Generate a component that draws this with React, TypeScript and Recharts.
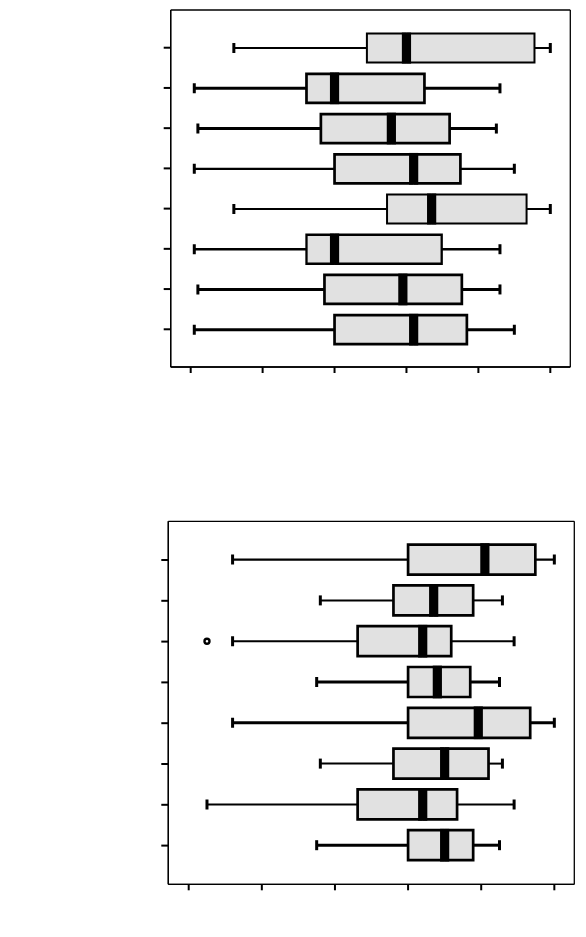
import React from 'react';
import { ComposedChart, Bar, XAxis, YAxis, CartesianGrid } from 'recharts';

// ---------- data ----------
const rowLabels = ['1', '2', '3', '4', '5', '6', '7', '8'];
const xTicks = [1, 2, 3, 4, 5, 6];

// Panel 1 (top)
const p1Min = [1.6, 1.05, 1.1, 1.05, 1.6, 1.05, 1.1, 1.05];
const p1Q1 = [3.45, 2.61, 2.81, 3.0, 3.73, 2.61, 2.86, 3.0];
const p1Median = [4.0, 3.0, 3.79, 4.1, 4.35, 3.0, 3.95, 4.1];
const p1Q3 = [5.78, 4.25, 4.6, 4.75, 5.67, 4.49, 4.77, 4.84];
const p1Max = [6.0, 5.3, 5.25, 5.5, 6.0, 5.3, 5.3, 5.5];
const p1Outlier: (number | null)[] = [null, null, null, null, null, null, null, null];

// Panel 2 (bottom)
const p2Min = [1.6, 2.8, 1.6, 2.75, 1.6, 2.8, 1.25, 2.75];
const p2Q1 = [4.0, 3.8, 3.31, 4.0, 4.0, 3.8, 3.31, 4.0];
const p2Median = [5.05, 4.35, 4.2, 4.4, 4.96, 4.5, 4.2, 4.5];
const p2Q3 = [5.74, 4.89, 4.59, 4.85, 5.67, 5.1, 4.67, 4.89];
const p2Max = [6.0, 5.29, 5.45, 5.25, 6.0, 5.29, 5.45, 5.25];
const p2Outlier: (number | null)[] = [null, null, 1.25, null, null, null, null, null];

// ---------- styles ----------
const BOX_FILL = '#e1e1e1';
const p1WhiskerW = [2, 3, 3, 2.3, 2, 2.5, 3, 3];
const p1BoxW = [2, 2.7, 2.7, 2.7, 2, 2.3, 2.7, 2.7];
const p2WhiskerW = [2.3, 2, 2, 3, 3, 2, 2, 3];
const p2BoxW = [2.7, 2.7, 2.7, 2.7, 2.7, 2.7, 2.7, 2.7];

function buildRows(
  min: number[],
  q1: number[],
  med: number[],
  q3: number[],
  max: number[],
  out: (number | null)[]
) {
  return rowLabels.map((name, i) => ({
    name,
    idx: i,
    min: min[i],
    q1: q1[i],
    out: out[i],
    base: min[i],
    wLow: q1[i] - min[i],
    bLow: med[i] - q1[i],
    bHigh: q3[i] - med[i],
    wHigh: max[i] - q3[i],
  }));
}

const p1Rows = buildRows(p1Min, p1Q1, p1Median, p1Q3, p1Max, p1Outlier);
const p2Rows = buildRows(p2Min, p2Q1, p2Median, p2Q3, p2Max, p2Outlier);

const CAP_H = 10;

const EmptyTick = () => <g />;

function makeShapes(whiskerW: number[], boxW: number[]) {
  const Empty = () => <g />;
  const LowWhisker = (props: any) => {
    const { x, y, width, height, payload } = props;
    const cy = y + height / 2;
    const lw = whiskerW[payload.idx];
    let outlier = null;
    if (payload.out != null) {
      // pixel scale derived from this bar's own (library-scaled) geometry
      const pxPerUnit = width / (payload.q1 - payload.min);
      const ox = x - (payload.min - payload.out) * pxPerUnit;
      outlier = <circle cx={ox} cy={cy} r={2.5} fill="#fff" stroke="#000" strokeWidth={2.4} />;
    }
    return (
      <g>
        <line x1={x} x2={x + width} y1={cy} y2={cy} stroke="#000" strokeWidth={lw} />
        <line x1={x} x2={x} y1={cy - CAP_H / 2} y2={cy + CAP_H / 2} stroke="#000" strokeWidth={3} />
        {outlier}
      </g>
    );
  };
  const HighWhisker = (props: any) => {
    const { x, y, width, height, payload } = props;
    const cy = y + height / 2;
    const lw = whiskerW[payload.idx];
    const xe = x + width;
    return (
      <g>
        <line x1={x} x2={xe} y1={cy} y2={cy} stroke="#000" strokeWidth={lw} />
        <line x1={xe} x2={xe} y1={cy - CAP_H / 2} y2={cy + CAP_H / 2} stroke="#000" strokeWidth={3} />
      </g>
    );
  };
  const BoxLow = (props: any) => {
    const { x, y, width, height, payload } = props;
    const bw = boxW[payload.idx];
    return (
      <g>
        <rect x={x} y={y} width={width} height={height} fill={BOX_FILL} />
        <path
          d={`M${x + width},${y} L${x},${y} L${x},${y + height} L${x + width},${y + height}`}
          fill="none"
          stroke="#000"
          strokeWidth={bw}
        />
      </g>
    );
  };
  const BoxHigh = (props: any) => {
    const { x, y, width, height, payload } = props;
    const bw = boxW[payload.idx];
    return (
      <g>
        <rect x={x} y={y} width={width} height={height} fill={BOX_FILL} />
        <path
          d={`M${x},${y} L${x + width},${y} L${x + width},${y + height} L${x},${y + height}`}
          fill="none"
          stroke="#000"
          strokeWidth={bw}
        />
        <rect x={x - 4.6} y={y - bw / 2} width={9.2} height={height + bw} fill="#000" />
      </g>
    );
  };
  return { Empty, LowWhisker, HighWhisker, BoxLow, BoxHigh };
}

type PanelProps = {
  rows: any[];
  width: number;
  height: number;
  margin: { top: number; right: number; bottom: number; left: number };
  yPad: number;
  barSize: number;
  whiskerW: number[];
  boxW: number[];
  domain: [number, number];
};

const frameH = (p: any) => [p.offset.top, p.offset.top + p.offset.height];
const frameV = (p: any) => [p.offset.left, p.offset.left + p.offset.width];

function BoxPanel({ rows, width, height, margin, yPad, barSize, whiskerW, boxW, domain }: PanelProps) {
  const s = makeShapes(whiskerW, boxW);
  const frame = { stroke: '#000', strokeWidth: 1.3 };
  const tickStyle = { stroke: '#000', strokeWidth: 2 };
  return (
    <ComposedChart
      width={width}
      height={height}
      data={rows}
      layout="vertical"
      margin={margin}
      barSize={barSize}
    >
      <CartesianGrid
        stroke="#000"
        strokeWidth={1.3}
        strokeDasharray=""
        fill="none"
        horizontalCoordinatesGenerator={frameH}
        verticalCoordinatesGenerator={frameV}
      />
      <XAxis
        type="number"
        domain={domain}
        allowDataOverflow
        ticks={xTicks}
        tick={EmptyTick}
        tickSize={6}
        height={10}
        axisLine={frame}
        tickLine={tickStyle}
      />
      <YAxis
        type="category"
        dataKey="name"
        padding={{ top: yPad, bottom: yPad }}
        tick={EmptyTick}
        tickSize={7}
        width={10}
        axisLine={frame}
        tickLine={tickStyle}
      />
      <Bar dataKey="base" stackId="box" shape={s.Empty} isAnimationActive={false} />
      <Bar dataKey="wLow" stackId="box" shape={s.LowWhisker} isAnimationActive={false} />
      <Bar dataKey="bLow" stackId="box" shape={s.BoxLow} isAnimationActive={false} />
      <Bar dataKey="bHigh" stackId="box" shape={s.BoxHigh} isAnimationActive={false} />
      <Bar dataKey="wHigh" stackId="box" shape={s.HighWhisker} isAnimationActive={false} />
    </ComposedChart>
  );
}

export default function App() {
  return (
    <div style={{ position: 'absolute', left: 0, top: 0, width: 586, height: 937, background: '#fff' }}>
      <div style={{ position: 'absolute', left: 0, top: 0 }}>
        <BoxPanel
          rows={p1Rows}
          width={586}
          height={460}
          margin={{ top: 10, right: 15.7, bottom: 83, left: 160.7 }}
          yPad={17.6}
          barSize={29}
          whiskerW={p1WhiskerW}
          boxW={p1BoxW}
          domain={[0.722, 6.278]}
        />
      </div>
      <div style={{ position: 'absolute', left: 0, top: 460 }}>
        <BoxPanel
          rows={p2Rows}
          width={586}
          height={477}
          margin={{ top: 61.3, right: 11.7, bottom: 42.7, left: 158.3 }}
          yPad={18.3}
          barSize={30}
          whiskerW={p2WhiskerW}
          boxW={p2BoxW}
          domain={[0.721, 6.273]}
        />
      </div>
    </div>
  );
}
